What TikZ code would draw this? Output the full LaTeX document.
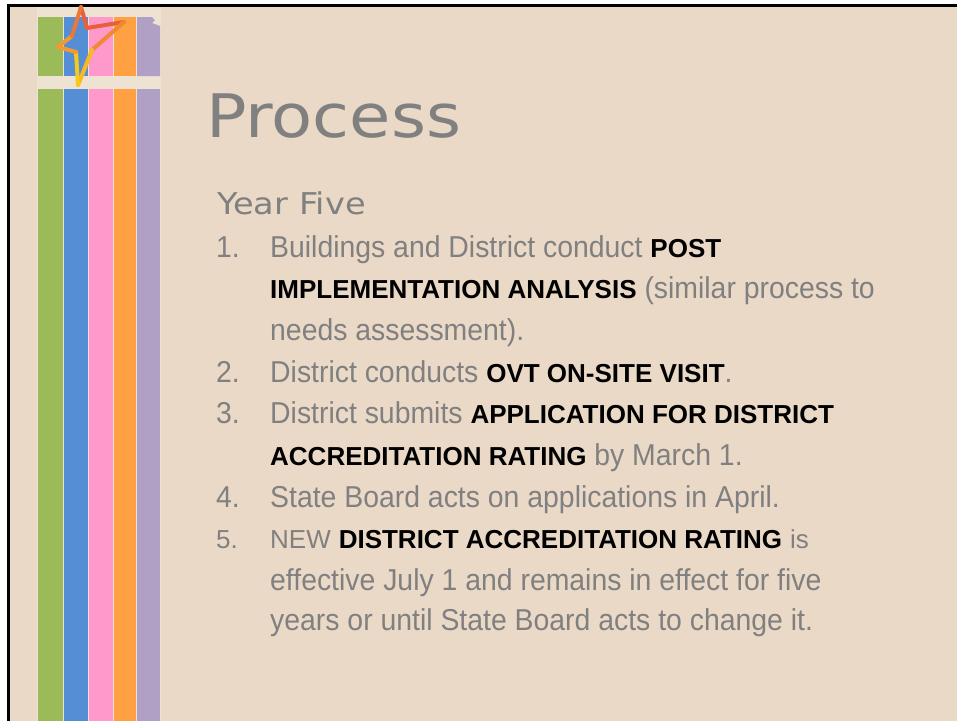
\documentclass[tikz,border=0pt]{standalone}
\usepackage{fontspec}
\setmainfont{Liberation Sans}
\newfontfamily\bodyfont[FakeStretch=0.94]{Liberation Sans}
\newfontfamily\headfont[FakeStretch=1.12]{DejaVu Sans}
\definecolor{slidebg}{HTML}{EBD9C7}
\definecolor{bandbg}{HTML}{EEE2D3}
\definecolor{txtgray}{HTML}{808080}
\definecolor{stgreen}{HTML}{9BBB59}
\definecolor{stblue}{HTML}{558ED5}
\definecolor{stpink}{HTML}{FF99CC}
\definecolor{storange}{HTML}{FFA043}
\definecolor{stpurple}{HTML}{B0A0C6}
\definecolor{starred}{HTML}{E8603A}
\definecolor{starorange}{HTML}{F29A30}
\definecolor{staryellow}{HTML}{F6C91A}
\newcommand{\hl}[1]{{\normalfont\fontsize{26}{30}\selectfont\bfseries\color{black}#1}}
\newcommand{\sm}[1]{{\normalfont\fontsize{26}{30}\selectfont #1}}

\begin{document}
\begin{tikzpicture}[x=1pt,y=-1pt,
  itemline/.style={anchor=base west,inner sep=0pt,text=txtgray,font=\bodyfont\fontsize{30.2}{34}\selectfont},
  headline/.style={anchor=base west,inner sep=0pt,text=txtgray},
  starline/.style={line width=4pt,line cap=round,line join=round}]
    \useasboundingbox (0,0) rectangle (957,721);
    % slide and frame
    \fill[white] (0,0) rectangle (957,721);
    \fill[slidebg] (7,4) rectangle (957,721);
    \fill[black] (7,4) rectangle (957,7);
    \fill[black] (7,4) rectangle (10,721);
    % stripes
    \fill[bandbg] (37,7) rectangle (161,721);
    \fill[stgreen] (38,17) rectangle (63,76);
    \fill[stblue] (64,17) rectangle (88,76);
    \fill[stpink] (89,17) rectangle (113,76);
    \fill[storange] (114,17) rectangle (136,76);
    \fill[stpurple] (137,17) -- (152,17) -- (155,20) -- (152,23) -- (160,26) -- (160,76) -- (137,76) -- cycle;
    \fill[stgreen] (38,89) rectangle (63,721);
    \fill[stblue] (64,89) rectangle (88,721);
    \fill[stpink] (89,89) rectangle (113,721);
    \fill[storange] (114,89) rectangle (136,721);
    \fill[stpurple] (137,89) rectangle (160,721);
    % star
    \coordinate (s1) at (81,7);
    \coordinate (s2) at (87,28);
    \coordinate (s3) at (124,22);
    \coordinate (s4) at (92,50);
    \coordinate (s5) at (78,85);
    \coordinate (s6) at (76,52);
    \coordinate (s7) at (58,47);
    \coordinate (s8) at (72,36);
    \draw[starline,color=starred] (s1) -- (s2);
    \draw[starline,color=starred] (s2) -- (s3);
    \draw[starline,color=starorange!70!starred] (s3) -- (s4);
    \draw[starline,color=staryellow!70!starorange] (s4) -- (s5);
    \draw[starline,color=staryellow] (s5) -- (s6);
    \draw[starline,color=starorange] (s6) -- (s7);
    \draw[starline,color=starorange] (s7) -- (s8);
    \draw[starline,color=starred!60!starorange] (s8) -- (s1);
    % heading
    \node[headline,font=\headfont\fontsize{60}{66}\selectfont] (title) at (206,137) {Process};
    \node[headline,font=\headfont\fontsize{30}{34}\selectfont] (year) at (217,214) {Year Five};
    % items
    \node[itemline] (n1) at (216,257) {1.};
    \node[itemline] (t1a) at (270,257) {Buildings and District conduct \hl{POST}};
    \node[itemline] (t1b) at (270,298) {\hl{IMPLEMENTATION ANALYSIS} (similar process to};
    \node[itemline] (t1c) at (270,340) {needs assessment).};
    \node[itemline] (n2) at (216,382) {2.};
    \node[itemline] (t2a) at (270,382) {District conducts \hl{OVT ON-SITE VISIT}.};
    \node[itemline] (n3) at (216,423) {3.};
    \node[itemline] (t3a) at (270,423) {District submits \hl{APPLICATION FOR DISTRICT}};
    \node[itemline] (t3b) at (270,465) {\hl{ACCREDITATION RATING} by March 1.};
    \node[itemline] (n4) at (216,507) {4.};
    \node[itemline] (t4a) at (270,507) {State Board acts on applications in April.};
    \node[itemline] (n5) at (216,548) {\sm{5.}};
    \node[itemline] (t5a) at (270,548) {\sm{NEW} \hl{DISTRICT ACCREDITATION RATING} \sm{is}};
    \node[itemline] (t5b) at (270,590) {effective July 1 and remains in effect for five};
    \node[itemline] (t5c) at (270,630) {years or until State Board acts to change it.};
\end{tikzpicture}
\end{document}
